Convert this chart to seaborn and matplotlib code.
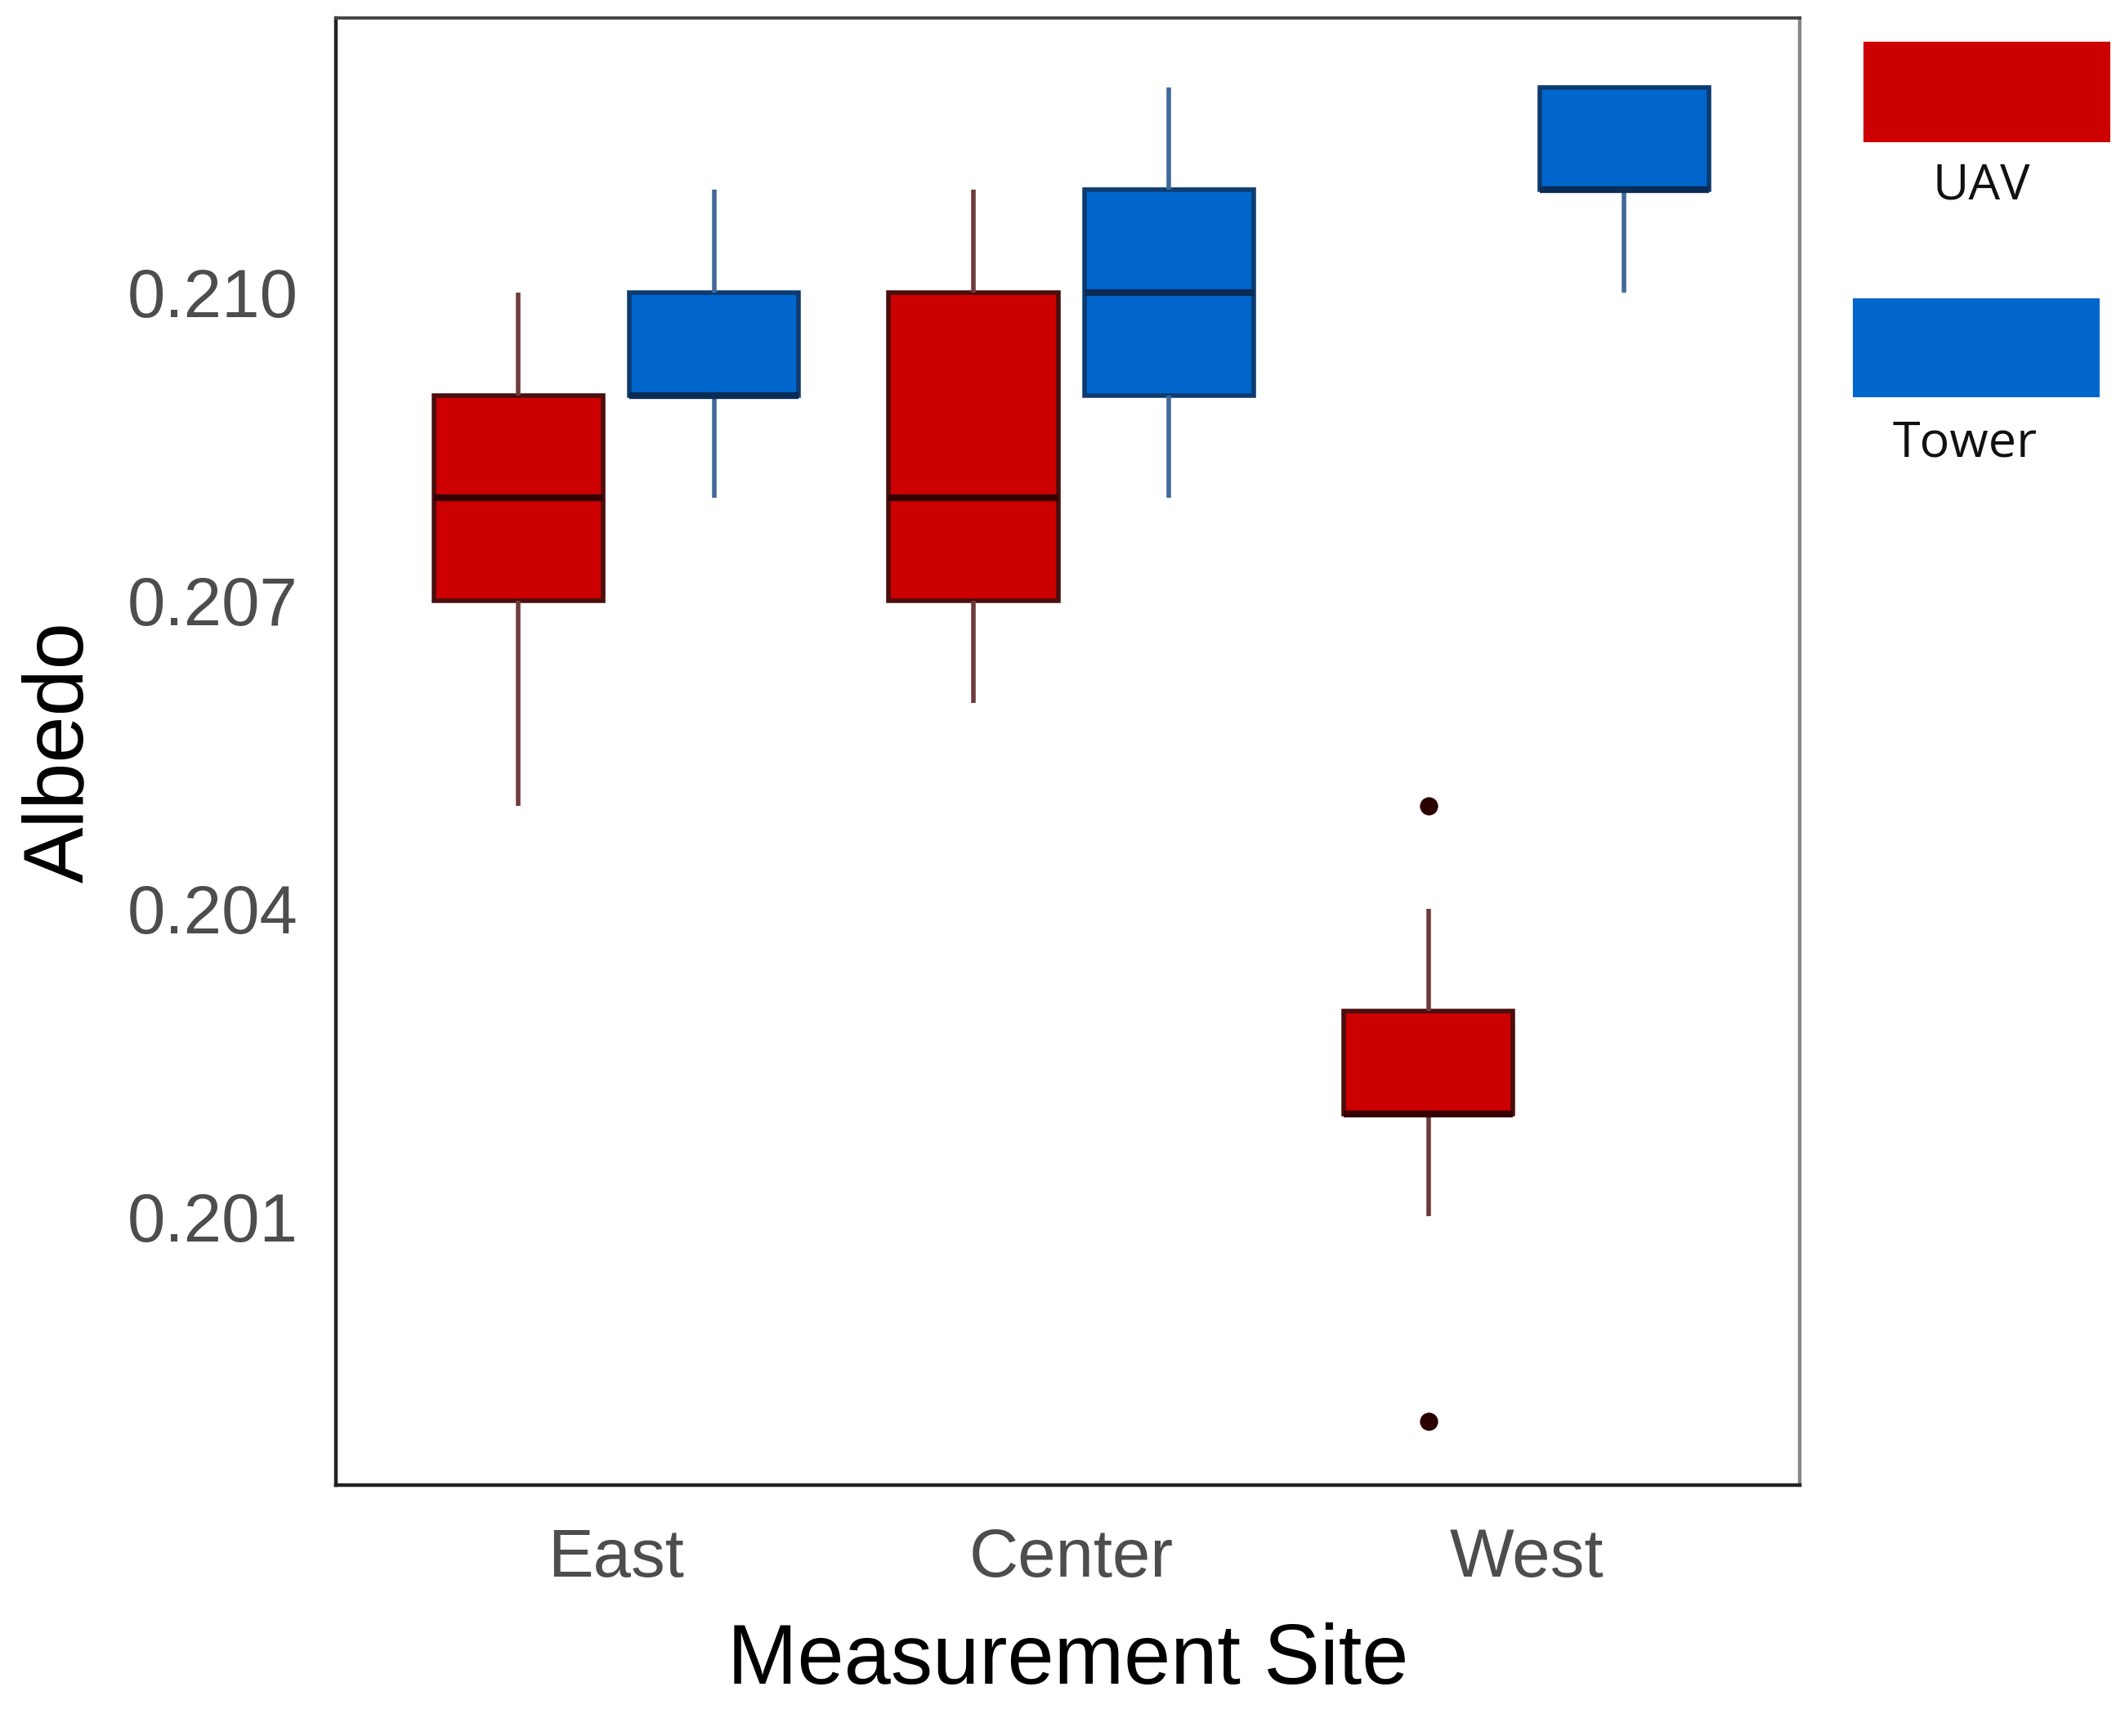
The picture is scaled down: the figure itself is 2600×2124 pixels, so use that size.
import numpy as np
import pandas as pd
import matplotlib.pyplot as plt
import matplotlib.patches as mpatches
import seaborn as sns

sites = ["East", "Center", "West"]
methods = ["UAV", "Tower"]

east_uav = [0.205, 0.207, 0.207, 0.208, 0.209, 0.209, 0.210]
east_tower = [0.208, 0.209, 0.209, 0.209, 0.210, 0.210, 0.211]
center_uav = [0.206, 0.207, 0.207, 0.208, 0.210, 0.210, 0.211]
center_tower = [0.208, 0.209, 0.209, 0.210, 0.211, 0.211, 0.212]
west_uav = [0.199, 0.201, 0.202, 0.202, 0.202, 0.203, 0.203, 0.204, 0.205]
west_tower = [0.210, 0.211, 0.211, 0.211, 0.212, 0.212, 0.212]

yticks = [0.201, 0.204, 0.207, 0.210]

samples = {
    ("East", "UAV"): east_uav, ("East", "Tower"): east_tower,
    ("Center", "UAV"): center_uav, ("Center", "Tower"): center_tower,
    ("West", "UAV"): west_uav, ("West", "Tower"): west_tower,
}
rows = []
for (site, method), vals in samples.items():
    for v in vals:
        rows.append([site, method, v])
df = pd.DataFrame(rows, columns=["Site", "Method", "Albedo"])

sns.set_theme(style="white")
plt.rcParams["font.family"] = ["Liberation Sans", "DejaVu Sans"]

palette = {"UAV": "#cc0000", "Tower": "#0066cc"}
styles = {
    "UAV": dict(edge="#4a0e0e", median="#330000", whisker="#6e3a3a", flier="#2b0000"),
    "Tower": dict(edge="#0d3b70", median="#0a2c57", whisker="#40699a", flier="#0a2c57"),
}

fig = plt.figure(figsize=(13, 10.62), dpi=200)
ax = fig.add_axes([0.158, 0.1445, 0.6888, 0.845])

sns.boxplot(data=df, x="Site", y="Albedo", hue="Method",
            order=sites, hue_order=methods, palette=palette, saturation=1,
            width=0.86, gap=0.135, linecolor="#333333", linewidth=2.0,
            showcaps=False,
            medianprops=dict(linewidth=3.0),
            whiskerprops=dict(linewidth=2.0),
            flierprops=dict(marker="o", markersize=7),
            legend=False, ax=ax)

# recolour the box parts per method: UAV boxes sit left of each site tick
def method_of(xs):
    xm = float(np.mean(xs))
    return "UAV" if xm - round(xm) < 0 else "Tower"

for patch in ax.patches:
    verts = patch.get_path().vertices
    xs = patch.get_transform().transform(verts)
    xs = ax.transData.inverted().transform(xs)[:, 0]
    patch.set_edgecolor(styles[method_of(xs)]["edge"])

for line in ax.lines:
    xd = np.asarray(line.get_xdata(), dtype=float)
    if xd.size == 0:
        continue
    st = styles[method_of(xd)]
    if line.get_marker() not in (None, "None", "", " "):
        line.set_markerfacecolor(st["flier"])
        line.set_markeredgecolor(st["flier"])
    elif len(xd) == 2 and xd[0] == xd[1]:
        line.set_color(st["whisker"])
    else:
        line.set_color(st["median"])

ax.set_xlim(-0.616, 2.60)
ax.set_ylim(0.198382, 0.212673)
ax.set_yticks(yticks)
ax.set_yticklabels([f"{t:.3f}" for t in yticks])

ax.tick_params(axis="both", direction="out", length=8.5, width=1.2,
               labelsize=30, labelcolor="#4d4d4d", color="#333333")
ax.tick_params(axis="x", pad=10, color="#555555")
ax.tick_params(axis="y", pad=8)

ax.set_xlabel("Measurement Site", fontsize=37, color="black", labelpad=14)
ax.set_ylabel("Albedo", fontsize=37, color="black", labelpad=12)

for side, col, lw in [("left", "#222222", 1.6), ("bottom", "#222222", 1.6),
                      ("top", "#444444", 1.4), ("right", "#888888", 1.6)]:
    ax.spines[side].set_visible(True)
    ax.spines[side].set_color(col)
    ax.spines[side].set_linewidth(lw)

# hand-made legend to the right of the panel
fig.add_artist(mpatches.Rectangle((0.8769, 0.9181), 0.1162, 0.0579,
                                  transform=fig.transFigure, facecolor=palette["UAV"],
                                  edgecolor="none"))
fig.add_artist(mpatches.Rectangle((0.8719, 0.7712), 0.1162, 0.057,
                                  transform=fig.transFigure, facecolor=palette["Tower"],
                                  edgecolor="none"))
fig.text(0.9323, 0.8931, "UAV", ha="center", va="center", fontsize=22,
         family=["Open Sans", "DejaVu Sans"], color="#111111")
fig.text(0.9246, 0.7448, "Tower", ha="center", va="center", fontsize=22,
         family=["Open Sans", "DejaVu Sans"], color="#111111")

fig.savefig("out.png", dpi=200)
